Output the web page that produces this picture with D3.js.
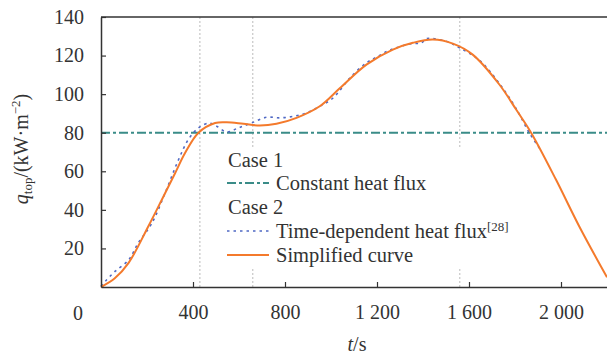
<!DOCTYPE html>
<html>
<head>
<meta charset="utf-8">
<script src="https://cdn.jsdelivr.net/npm/d3@7"></script>
<style>
  body { margin: 0; background: #fff; }
</style>
</head>
<body>
<div id="chart"></div>
<script>
// simplified curve (orange)
const simplifiedT = [0, 60, 120, 206, 265, 322, 366, 424, 496, 547, 619, 691, 763, 850, 951, 1038, 1154, 1269, 1356, 1443, 1530, 1616, 1732, 1805, 1870, 1978, 2079, 2200];
const simplifiedQ = [0, 4.5, 12.5, 31.5, 45.4, 59, 69.6, 80, 85, 85.4, 84.6, 83.7, 84.6, 87.7, 93.7, 103, 115.3, 123.1, 126.6, 128.3, 126.2, 120.5, 105, 92, 80, 55.7, 31.5, 5];

// time-dependent heat flux [28] (blue dotted)
const measuredT = [0, 19, 62, 120, 163, 221, 279, 337, 380, 424, 470, 503, 547, 597, 655, 720, 778, 836, 894, 951, 1009, 1082, 1154, 1204, 1255, 1342, 1393, 1414, 1501, 1559, 1646, 1732, 1805, 1862, 1906];
const measuredQ = [0.5, 3, 8.2, 14, 23, 33, 48.8, 66, 76.5, 82.5, 85, 83.4, 80.4, 82.5, 85.1, 88, 87.7, 88.5, 90.3, 93.7, 98, 108.4, 116.2, 119.6, 122.8, 126, 126.6, 128.7, 127.4, 124, 117.5, 105.5, 92.5, 80, 72];

const constantQ = 80;
const markerT = [430, 660, 1560];

const xTicks = [400, 800, 1200, 1600, 2000];
const xTickLabels = ["400", "800", "1 200", "1 600", "2 000"];
const yTicks = [20, 40, 60, 80, 100, 120, 140];

const width = 607, height = 357;
const margin = { top: 17, right: 0, bottom: 70, left: 101 };
const serif = "'Liberation Serif'";
const ink = "#333";

const svg = d3.select("#chart").append("svg")
  .attr("width", width)
  .attr("height", height);

const x = d3.scaleLinear().domain([0, 2200]).range([margin.left, width - margin.right]);
const y = d3.scaleLinear().domain([0, 140]).range([height - margin.bottom, margin.top]);

// vertical dotted markers
svg.selectAll("line.marker")
  .data(markerT)
  .enter()
  .append("line")
  .attr("class", "marker")
  .attr("x1", d => x(d)).attr("x2", d => x(d))
  .attr("y1", y(140)).attr("y2", y(0))
  .attr("stroke", "#bbb")
  .attr("stroke-width", 1)
  .attr("stroke-dasharray", "2,2");

// constant heat flux
svg.append("line")
  .attr("x1", x(0)).attr("x2", x(2200))
  .attr("y1", y(constantQ)).attr("y2", y(constantQ))
  .attr("stroke", "#3a8c88")
  .attr("stroke-width", 2)
  .attr("stroke-dasharray", "9,3,3,3");

const measured = measuredT.map((t, i) => ({ t, q: measuredQ[i] }));
const simplified = simplifiedT.map((t, i) => ({ t, q: simplifiedQ[i] }));

const line = d3.line()
  .x(d => x(d.t))
  .y(d => y(d.q))
  .curve(d3.curveCatmullRom);

svg.append("path")
  .datum(measured)
  .attr("fill", "none")
  .attr("stroke", "#4f68c4")
  .attr("stroke-width", 1.6)
  .attr("stroke-dasharray", "2.5,4")
  .attr("d", line);

svg.append("path")
  .datum(simplified)
  .attr("fill", "none")
  .attr("stroke", "#f47a2c")
  .attr("stroke-width", 2)
  .attr("d", line);

// axes
const yAxis = svg.append("g")
  .attr("transform", `translate(${margin.left},0)`)
  .call(d3.axisLeft(y).tickValues(yTicks).tickSizeInner(-5).tickSizeOuter(0).tickPadding(17));

const xAxis = svg.append("g")
  .attr("transform", `translate(0,${y(0)})`)
  .call(d3.axisBottom(x).tickValues(xTicks).tickFormat((d, i) => xTickLabels[i]).tickSizeInner(-5).tickSizeOuter(0).tickPadding(18));

[xAxis, yAxis].forEach(a => {
  a.select(".domain").attr("stroke", ink).attr("stroke-width", 1.5);
  a.selectAll(".tick line").attr("stroke", ink).attr("stroke-width", 1.2);
  a.selectAll("text")
    .style("font-family", serif)
    .style("font-size", "20px")
    .style("fill", ink);
});

// top border
svg.append("line")
  .attr("x1", margin.left).attr("x2", width)
  .attr("y1", y(140)).attr("y2", y(140))
  .attr("stroke", ink).attr("stroke-width", 1.5);

function label(sel, size) {
  return sel.style("font-family", serif).style("font-size", size + "px").style("fill", ink);
}

// origin label
label(svg.append("text"), 20)
  .attr("x", 78).attr("y", 320)
  .attr("text-anchor", "middle")
  .text("0");

// axis titles
const xt = label(svg.append("text"), 20)
  .attr("x", 357).attr("y", 351)
  .attr("text-anchor", "middle");
xt.append("tspan").style("font-style", "italic").text("t");
xt.append("tspan").text("/s");

const yt = label(svg.append("text"), 20)
  .attr("transform", "translate(28,149) rotate(-90)")
  .attr("text-anchor", "middle");
yt.append("tspan").style("font-style", "italic").text("q");
yt.append("tspan").attr("dy", 4).style("font-size", "13px").text("top");
yt.append("tspan").attr("dy", -4).text("/(kW·m");
yt.append("tspan").attr("dy", -8).style("font-size", "13px").text("−2");
yt.append("tspan").attr("dy", 8).text(")");

// legend
const legend = svg.append("g");
legend.append("rect")
  .attr("x", 221).attr("y", 148)
  .attr("width", 300).attr("height", 121)
  .attr("fill", "#fff");

const legendRows = [
  { label: "Case 1", y: 167 },
  { label: "Constant heat flux", y: 190, stroke: "#3a8c88", dash: "9,3,3,3", width: 2 },
  { label: "Case 2", y: 214 },
  { label: "Time-dependent heat flux", sup: "[28]", y: 238, stroke: "#4f68c4", dash: "2.5,4", width: 1.6 },
  { label: "Simplified curve", y: 262, stroke: "#f47a2c", dash: null, width: 2 }
];

legendRows.forEach(r => {
  if (r.stroke) {
    legend.append("line")
      .attr("x1", 227).attr("x2", 269)
      .attr("y1", r.y - 7).attr("y2", r.y - 7)
      .attr("stroke", r.stroke)
      .attr("stroke-width", r.width)
      .attr("stroke-dasharray", r.dash);
    const t = label(legend.append("text"), 20.5)
      .attr("x", 276).attr("y", r.y)
      .text(r.label);
    if (r.sup) {
      t.append("tspan").attr("dy", -7).style("font-size", "13px").text(r.sup);
    }
  } else {
    label(legend.append("text"), 20.5)
      .attr("x", 228).attr("y", r.y)
      .text(r.label);
  }
});
</script>
</body>
</html>
